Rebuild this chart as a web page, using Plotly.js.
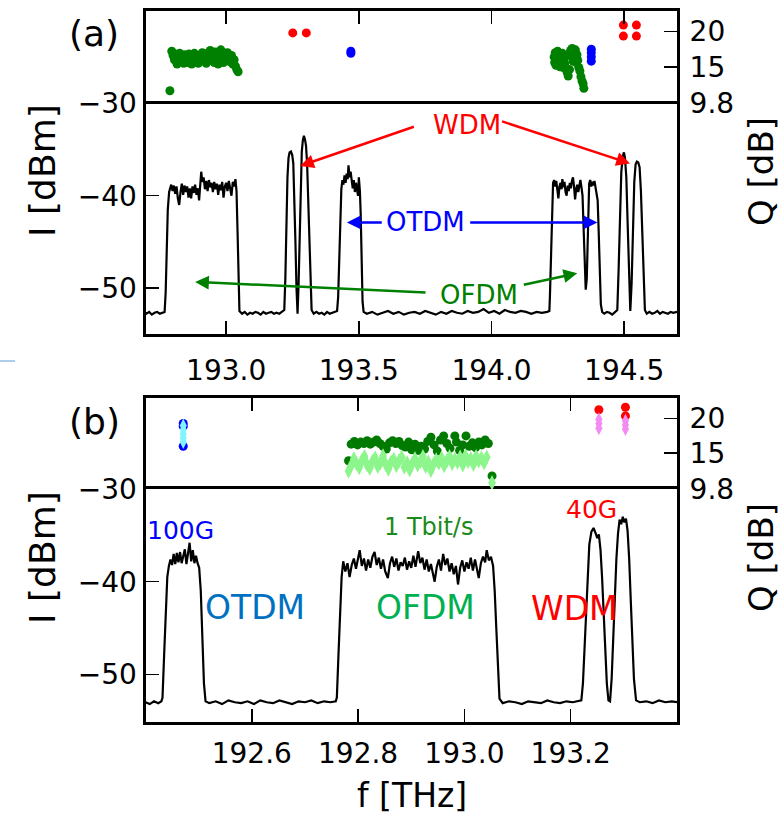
<!DOCTYPE html>
<html>
<head>
<meta charset="utf-8">
<script src="https://cdn.plot.ly/plotly-3.0.1.min.js"></script>
<style>html,body{margin:0;padding:0;background:#fff;}#chart{width:782px;height:817px;}</style>
</head>
<body>
<div id="chart"></div>
<script>
// ---------------- DATA ----------------
// Panel (a) spectrum: [frequency THz, power dBm]
const specA = [
[192.696,-52.7],[192.70,-52.8],[192.71,-52.6],[192.72,-52.9],[192.73,-52.7],[192.74,-52.6],[192.75,-52.8],[192.76,-52.7],[192.768,-52.6],
[192.772,-50.5],[192.776,-45],[192.780,-41.5],[192.785,-39.6],
[192.788,-39.3],[192.793,-38.8],[192.798,-39.5],[192.803,-38.9],[192.808,-39.8],[192.813,-39.0],[192.818,-40.3],[192.823,-41.0],[192.828,-39.6],[192.833,-38.7],
[192.838,-39.9],[192.843,-38.9],[192.848,-39.6],[192.853,-39.0],[192.858,-40.2],[192.863,-39.2],[192.868,-40.3],[192.873,-39.0],[192.878,-39.7],[192.883,-38.8],
[192.888,-39.9],[192.893,-39.2],[192.898,-40.5],[192.903,-38.6],[192.906,-37.4],[192.910,-38.5],[192.915,-38.0],[192.920,-39.3],[192.925,-38.4],[192.930,-39.5],
[192.935,-38.3],[192.940,-39.1],[192.945,-38.6],[192.950,-39.6],[192.955,-38.5],[192.960,-39.3],[192.965,-38.7],[192.970,-39.9],[192.975,-38.8],[192.980,-39.4],
[192.985,-38.5],[192.990,-40.2],[192.995,-39.0],[193.000,-38.6],[193.005,-39.5],[193.010,-38.4],[193.015,-39.2],[193.020,-40.0],[193.025,-38.5],[193.030,-39.0],
[193.035,-38.2],[193.039,-39.5],[193.043,-44],[193.046,-49],[193.050,-52.5],
[193.06,-52.8],[193.07,-52.6],[193.08,-52.9],[193.09,-52.7],[193.10,-52.8],[193.11,-52.6],[193.12,-52.7],[193.13,-52.9],[193.14,-52.6],[193.15,-52.8],
[193.16,-52.7],[193.17,-52.6],[193.18,-52.8],[193.19,-52.7],[193.20,-52.8],[193.21,-52.6],[193.215,-52.4],
[193.219,-52.4],[193.223,-49],[193.227,-43],[193.231,-38],[193.235,-35.9],[193.239,-35.3],[193.244,-35.2],[193.249,-35.6],[193.253,-36.5],[193.257,-40],
[193.261,-45],[193.265,-50],[193.269,-52.8],
[193.273,-49.5],[193.277,-44],[193.281,-38.5],[193.285,-35.2],[193.289,-34.0],[193.293,-33.5],[193.297,-33.9],[193.301,-34.6],[193.305,-36.5],[193.309,-40.5],
[193.313,-45.5],[193.317,-50],[193.322,-52.4],
[193.33,-52.8],[193.34,-52.6],[193.35,-52.8],[193.36,-52.7],[193.37,-52.9],[193.38,-52.6],[193.39,-52.8],[193.40,-52.7],[193.41,-52.6],[193.418,-52.5],
[193.422,-51],[193.426,-46],[193.430,-41.5],[193.434,-39.3],[193.438,-38.3],[193.442,-38.8],[193.446,-37.8],[193.450,-38.6],[193.454,-37.6],[193.458,-38.2],
[193.461,-36.7],[193.465,-38.0],[193.469,-37.4],[193.473,-38.5],[193.477,-39.2],[193.481,-38.3],[193.485,-39.6],[193.489,-38.6],[193.493,-39.4],[193.497,-40.0],
[193.500,-38.0],[193.504,-39.5],[193.507,-42],[193.510,-47],[193.514,-51.5],[193.518,-52.6],
[193.53,-52.8],[193.55,-52.6],[193.57,-52.9],[193.59,-52.7],[193.61,-52.5],[193.63,-52.8],[193.65,-52.6],[193.67,-52.9],[193.69,-52.7],[193.71,-52.6],
[193.73,-52.8],[193.75,-52.5],[193.77,-52.7],[193.79,-52.9],[193.81,-52.6],[193.83,-52.8],[193.85,-52.5],[193.87,-52.7],[193.89,-52.8],[193.91,-52.5],
[193.93,-52.7],[193.95,-52.6],[193.97,-52.3],[193.99,-52.7],[194.01,-52.5],[194.03,-52.8],[194.05,-52.4],[194.07,-52.6],[194.09,-52.7],[194.11,-52.5],
[194.13,-52.6],[194.15,-52.8],[194.17,-52.6],[194.19,-52.7],[194.21,-52.6],[194.218,-52.5],
[194.220,-51],[194.224,-46],[194.228,-41],[194.232,-38.6],[194.236,-38.3],[194.240,-39.0],[194.244,-38.4],[194.248,-39.5],[194.252,-40.3],[194.256,-39.0],
[194.260,-38.6],[194.264,-39.3],[194.267,-38.2],[194.271,-39.1],[194.275,-38.5],[194.279,-39.6],[194.283,-40.0],[194.287,-38.9],[194.291,-39.5],[194.295,-38.6],
[194.299,-39.2],[194.303,-38.4],[194.307,-38.0],[194.311,-39.0],[194.315,-40.4],[194.319,-39.3],[194.323,-38.8],[194.327,-39.6],[194.331,-38.7],[194.335,-38.3],
[194.339,-39.1],[194.343,-40],[194.347,-43.5],[194.351,-47],[194.355,-50.2],[194.359,-49],[194.362,-44],[194.365,-40],[194.368,-38.7],[194.372,-38.3],
[194.376,-39.0],[194.380,-38.5],[194.384,-38.9],[194.388,-38.4],[194.392,-39.0],[194.396,-39.5],[194.400,-40.5],[194.404,-44],[194.408,-48.5],[194.412,-51.8],
[194.417,-52.6],[194.425,-52.8],[194.435,-52.6],[194.445,-52.7],[194.455,-52.9],[194.465,-52.6],[194.470,-52.5],
[194.474,-52.4],[194.479,-48],[194.484,-42],[194.489,-37.5],[194.494,-35.8],[194.499,-35.3],[194.503,-35.9],[194.508,-38],[194.513,-43],[194.518,-48.5],
[194.523,-52.5],[194.528,-49.5],[194.533,-43.5],[194.538,-38.5],[194.543,-36.6],[194.548,-36.3],[194.553,-36.4],[194.558,-36.9],[194.563,-39.5],[194.568,-44.5],
[194.573,-49.5],[194.578,-52.4],
[194.585,-52.8],[194.595,-52.6],[194.605,-52.8],[194.615,-52.7],[194.625,-52.5],[194.635,-52.8],[194.645,-52.6],[194.655,-52.7],[194.665,-52.8],[194.675,-52.6],
[194.685,-52.7],[194.699,-52.6]
];

// Panel (b) spectrum
const specB = [
[192.400,-53.0],[192.408,-53.2],[192.416,-52.9],[192.424,-53.1],[192.430,-52.9],
[192.432,-52.5],[192.435,-48],[192.438,-43],[192.441,-39.5],[192.444,-38.3],[192.447,-37.6],[192.450,-38.2],[192.453,-37.0],[192.456,-38.1],[192.459,-36.9],
[192.462,-37.9],[192.465,-36.8],[192.468,-38.0],[192.471,-37.2],[192.474,-36.5],[192.477,-38.1],[192.480,-37.0],[192.483,-35.8],[192.486,-37.8],[192.489,-36.6],
[192.492,-38.0],[192.495,-37.2],[192.498,-38.0],[192.501,-38.5],[192.504,-41],[192.507,-46],[192.510,-51],[192.513,-52.9],
[192.52,-53.1],[192.532,-52.9],[192.544,-53.2],[192.556,-52.8],[192.568,-53.0],[192.58,-53.1],[192.592,-52.9],[192.604,-53.2],[192.616,-52.8],[192.628,-53.0],
[192.64,-53.1],[192.652,-52.8],[192.664,-53.0],[192.676,-53.2],[192.688,-52.9],[192.70,-53.0],[192.712,-52.8],[192.724,-53.1],[192.736,-52.9],[192.748,-53.0],[192.758,-52.9],
[192.760,-52.5],[192.763,-48],[192.766,-43],[192.769,-39.5],[192.772,-37.8],[192.776,-38.9],[192.780,-38.0],[192.784,-39.5],[192.788,-38.2],[192.792,-37.5],
[192.796,-38.6],[192.800,-37.2],[192.803,-36.6],[192.807,-38.3],[192.811,-37.5],[192.815,-38.8],[192.819,-37.6],[192.823,-38.5],[192.827,-37.3],[192.831,-36.8],
[192.835,-38.2],[192.839,-37.4],[192.843,-38.6],[192.847,-37.6],[192.851,-38.9],[192.856,-39.6],[192.860,-38.0],[192.864,-37.3],[192.868,-38.4],[192.872,-37.5],
[192.876,-38.8],[192.880,-37.9],[192.884,-38.3],[192.888,-37.4],[192.892,-38.7],[192.896,-37.8],[192.900,-38.5],[192.904,-37.2],[192.908,-38.4],[192.913,-36.7],
[192.917,-38.0],[192.921,-37.4],[192.925,-38.7],[192.929,-37.6],[192.933,-38.9],[192.937,-38.1],[192.941,-39.3],[192.944,-40.0],[192.948,-38.4],[192.952,-37.6],
[192.956,-38.8],[192.960,-37.0],[192.964,-38.2],[192.968,-37.5],[192.972,-38.9],[192.976,-38.0],[192.980,-39.2],[192.984,-38.3],[192.988,-40.3],[192.992,-38.5],
[192.996,-37.7],[193.000,-38.9],[193.004,-37.9],[193.008,-38.6],[193.012,-37.4],[193.016,-38.8],[193.020,-37.6],[193.024,-38.9],[193.027,-39.6],[193.031,-38.0],
[193.035,-37.3],[193.039,-37.9],[193.042,-36.6],[193.046,-37.7],[193.050,-37.3],[193.054,-38.3],[193.057,-41],[193.060,-45],[193.063,-49.5],[193.066,-52.6],
[193.072,-53.1],[193.084,-52.9],[193.096,-53.0],[193.108,-53.2],[193.12,-52.9],[193.132,-53.0],[193.144,-53.1],[193.156,-52.8],[193.168,-53.0],[193.18,-53.1],
[193.192,-52.9],[193.204,-53.0],[193.214,-52.9],
[193.220,-52.8],[193.223,-51],[193.226,-47],[193.229,-42.5],[193.232,-38.5],[193.235,-36],[193.239,-34.6],[193.243,-34.2],[193.247,-34.8],[193.250,-35.3],
[193.253,-34.9],[193.256,-36.5],[193.259,-39.5],[193.262,-43.5],[193.265,-47.5],[193.268,-51],[193.271,-52.8],[193.274,-52.9],
[193.277,-50.5],[193.280,-46],[193.283,-41.5],[193.286,-37.5],[193.289,-34.8],[193.292,-33.3],[193.295,-33.8],[193.298,-33.0],[193.301,-33.6],[193.304,-33.2],
[193.307,-34.5],[193.310,-37.5],[193.313,-42],[193.316,-46.5],[193.319,-50.5],[193.323,-52.8],
[193.33,-53.0],[193.342,-52.9],[193.354,-53.1],[193.366,-52.8],[193.378,-53.0],[193.39,-52.9],[193.4,-53.0]
];

// Panel (a) Q values: [frequency THz, Q dB]
const qA_ofdm = [
[192.788,11.6],[192.795,17.2],[192.800,16.6],[192.805,16.0],[192.810,16.8],[192.815,15.4],[192.820,16.3],[192.825,16.9],[192.830,15.8],[192.835,16.5],
[192.840,15.5],[192.845,16.7],[192.850,16.1],[192.855,15.6],[192.860,16.8],[192.865,16.2],[192.870,15.4],[192.875,16.5],[192.880,16.9],[192.885,15.7],
[192.890,16.3],[192.895,15.5],[192.900,16.6],[192.905,16.0],[192.910,17.0],[192.915,15.8],[192.920,16.4],[192.925,15.5],[192.930,16.9],[192.935,16.2],
[192.940,17.3],[192.945,15.9],[192.950,16.7],[192.955,15.6],[192.960,17.1],[192.965,16.3],[192.970,15.4],[192.975,16.8],[192.980,17.4],[192.985,16.1],
[192.990,15.6],[192.995,16.9],[193.000,15.9],[193.005,17.0],[193.010,16.3],[193.015,15.7],[193.020,16.6],[193.025,15.4],[193.030,16.0],[193.035,15.1],
[193.040,14.6],[193.045,14.3],
[194.236,16.4],[194.238,15.6],[194.240,17.0],[194.243,15.2],[194.246,16.5],[194.249,17.2],[194.252,15.9],[194.255,16.8],[194.258,15.0],[194.261,16.2],
[194.264,15.6],[194.267,16.9],[194.270,14.9],[194.273,16.0],[194.276,15.4],[194.279,16.6],[194.285,14.2],[194.289,13.7],[194.294,14.6],[194.298,17.3],
[194.301,16.5],[194.304,17.6],[194.307,15.8],[194.310,16.9],[194.313,16.2],[194.316,17.4],[194.319,15.6],[194.322,16.7],[194.325,15.9],[194.329,14.9],
[194.333,14.4],[194.337,13.6],[194.341,13.0],[194.345,12.6],[194.348,11.95]
];
const qA_otdm = [[193.470,17.2],[193.470,16.9],[194.376,17.5],[194.376,17.0],[194.376,16.4],[194.376,15.8]];
const qA_wdm = [[193.251,19.8],[193.302,19.8],[194.497,20.9],[194.497,19.35],[194.546,20.9],[194.546,19.35]];

// Panel (b) Q values
const qB_otdm_circ = [[192.471,19.3],[192.471,18.9],[192.471,16.0]];
const qB_otdm_diam = [[192.471,19.0],[192.471,18.4],[192.471,17.8],[192.471,17.2],[192.471,16.6]];
const qB_ofdm_circ = [
[192.782,13.9],[192.787,16.3],[192.793,16.7],[192.799,16.2],[192.805,16.6],[192.811,16.4],[192.817,16.8],[192.823,16.3],[192.829,16.6],[192.835,16.9],
[192.841,16.4],[192.847,16.0],[192.853,15.6],[192.859,16.5],[192.865,16.8],[192.871,16.4],[192.877,16.7],[192.883,16.1],[192.889,15.9],[192.895,16.6],
[192.901,15.5],[192.907,16.3],[192.913,15.4],[192.919,16.0],[192.925,15.6],[192.931,16.7],[192.937,17.3],[192.943,16.2],[192.949,15.3],[192.955,16.9],
[192.961,17.5],[192.967,16.4],[192.973,15.7],[192.982,17.5],[192.985,16.6],[192.991,15.4],[192.997,16.2],[193.003,17.5],[193.009,16.0],[193.015,16.5],
[193.021,15.8],[193.027,16.6],[193.033,16.2],[193.039,16.9],[193.045,16.4],[193.052,11.7]
];
const qB_ofdm_diam = [
[192.782,12.4],[192.787,13.2],[192.792,14.2],[192.797,13.5],[192.802,12.9],[192.807,13.9],[192.812,14.5],[192.817,13.3],[192.822,12.8],[192.827,13.8],
[192.832,14.3],[192.837,13.1],[192.842,13.6],[192.847,14.6],[192.852,13.4],[192.857,12.7],[192.862,13.7],[192.867,14.1],[192.872,13.2],[192.877,13.9],
[192.882,14.4],[192.887,13.0],[192.892,13.6],[192.897,12.6],[192.902,13.5],[192.907,14.2],[192.912,13.3],[192.917,13.8],[192.922,14.5],[192.927,13.1],
[192.932,13.7],[192.937,12.5],[192.942,13.4],[192.947,14.0],[192.952,13.6],[192.957,14.3],[192.962,13.2],[192.967,13.9],[192.972,14.5],[192.977,13.5],
[192.982,14.1],[192.987,13.7],[192.992,14.4],[192.997,13.3],[193.002,14.6],[193.007,13.8],[193.012,14.2],[193.017,13.4],[193.022,14.5],[193.027,13.9],
[193.032,14.3],[193.037,13.6],[193.042,14.4],[193.052,10.7]
];
const qB_wdm_circ = [[193.253,21.3],[193.303,21.66],[193.303,20.4]];
const qB_wdm_diam = [[193.253,19.9],[193.253,19.3],[193.253,18.6],[193.303,19.7],[193.303,19.1],[193.303,18.5]];

// Tick labels
const xTicksA = [193.0, 193.5, 194.0, 194.5];
const xTickTextA = ["193.0", "193.5", "194.0", "194.5"];
const xTicksB = [192.6, 192.8, 193.0, 193.2];
const xTickTextB = ["192.6", "192.8", "193.0", "193.2"];
const iTicks = [-30, -40, -50];
const iTickText = ["\u221230", "\u221240", "\u221250"];
const qTicks = [9.8, 15, 20];
const qTickText = ["9.8", "15", "20"];

// ---------------- PLOT ----------------
const W = 782, H = 817;
const FONT = "DejaVu Sans";
const px = v => v / W;
const py = v => 1 - v / H;
const col = (arr, i) => arr.map(p => p[i]);

const xDom = [px(145.5), px(677)];
const dom = {
  qa: [py(103.5), py(11)],
  ia: [py(334), py(103.5)],
  qb: [py(489), py(398)],
  ib: [py(721.7), py(489)]
};

function sc(arr, xa, ya, color, symbol, size) {
  return {
    x: col(arr, 0), y: col(arr, 1), xaxis: xa, yaxis: ya, type: 'scatter', mode: 'markers',
    marker: {color: color, symbol: symbol, size: size, line: {width: 0}},
    hoverinfo: 'skip'
  };
}

const traces = [
  {x: col(specA,0), y: col(specA,1), xaxis:'x', yaxis:'y2', type:'scatter', mode:'lines', line:{color:'#000', width:2.2}},
  {x: col(specB,0), y: col(specB,1), xaxis:'x3', yaxis:'y4', type:'scatter', mode:'lines', line:{color:'#000', width:2.2}},
  sc(qA_ofdm, 'x2', 'y', '#008000', 'circle', 9),
  sc(qA_otdm, 'x2', 'y', '#0000ff', 'circle', 9),
  sc(qA_wdm, 'x2', 'y', '#ff0000', 'circle', 9),
  sc(qB_otdm_circ, 'x4', 'y3', '#0000ff', 'circle', 9),
  sc(qB_otdm_diam, 'x4', 'y3', '#80f4ff', 'diamond-tall', 10),
  sc(qB_ofdm_circ, 'x4', 'y3', '#007a00', 'circle', 9),
  sc(qB_ofdm_diam, 'x4', 'y3', '#8cf58c', 'diamond-tall', 11),
  sc(qB_wdm_circ, 'x4', 'y3', '#ff0000', 'circle', 9),
  sc(qB_wdm_diam, 'x4', 'y3', '#f28cf2', 'diamond-tall', 10)
];

const baseAx = {
  showline: true, linewidth: 3, linecolor: '#000', mirror: true,
  showgrid: false, zeroline: false, ticks: 'inside', ticklen: 13, tickwidth: 1.5, tickcolor: '#000',
  tickfont: {family: FONT, size: 28, color: '#000'}, fixedrange: true
};

const layout = {
  width: W, height: H, margin: {l:0, r:0, t:0, b:0, pad:0},
  paper_bgcolor: '#fff', plot_bgcolor: '#fff', showlegend: false,
  font: {family: FONT, color: '#000'},
  xaxis: Object.assign({}, baseAx, {domain: xDom, range: [192.696, 194.699], anchor: 'y2',
    tickmode: 'array', tickvals: xTicksA, ticktext: xTickTextA, ticklabelstandoff: 9}),
  xaxis2: Object.assign({}, baseAx, {domain: xDom, range: [192.696, 194.699], anchor: 'y', side: 'top', mirror: false,
    tickmode: 'array', tickvals: xTicksA, ticktext: xTickTextA, showticklabels: false}),
  yaxis: Object.assign({}, baseAx, {domain: dom.qa, range: [9.8, 22.9], anchor: 'x2', side: 'right',
    tickmode: 'array', tickvals: qTicks, ticktext: qTickText, ticklabelstandoff: 4}),
  yaxis2: Object.assign({}, baseAx, {domain: dom.ia, range: [-55, -30], anchor: 'x', side: 'left',
    tickmode: 'array', tickvals: iTicks, ticktext: iTickText, ticklabelstandoff: 0}),
  xaxis3: Object.assign({}, baseAx, {domain: xDom, range: [192.4, 193.4], anchor: 'y4',
    tickmode: 'array', tickvals: xTicksB, ticktext: xTickTextB, ticklabelstandoff: 5}),
  xaxis4: Object.assign({}, baseAx, {domain: xDom, range: [192.4, 193.4], anchor: 'y3', side: 'top', mirror: false,
    tickmode: 'array', tickvals: xTicksB, ticktext: xTickTextB, showticklabels: false}),
  yaxis3: Object.assign({}, baseAx, {domain: dom.qb, range: [9.8, 23.0], anchor: 'x4', side: 'right',
    tickmode: 'array', tickvals: qTicks, ticktext: qTickText, ticklabelstandoff: 4}),
  yaxis4: Object.assign({}, baseAx, {domain: dom.ib, range: [-55.1, -30], anchor: 'x3', side: 'left',
    tickmode: 'array', tickvals: iTicks, ticktext: iTickText, ticklabelstandoff: 0}),
  shapes: [
    {type:'line', xref:'paper', yref:'paper', x0: 0, x1: px(15), y0: py(361), y1: py(361), line:{color:'#5b9bd5', width:1}}
  ],
  annotations: []
};

const A = layout.annotations;
function txt(x, y, xref, yref, text, size, color, angle) {
  A.push({x:x, y:y, xref:xref, yref:yref, text:text, showarrow:false, xanchor:'center', yanchor:'middle',
    textangle: angle || 0, borderpad: 0, font:{family: FONT, size: size, color: color}});
}
function arrow(hx, hy, tx, ty, xref, yref, color) {
  A.push({x:hx, y:hy, ax:tx, ay:ty, xref:xref, yref:yref, axref:xref, ayref:yref, text:'', showarrow:true,
    arrowhead:2, arrowsize:1.1, arrowwidth:2.5, arrowcolor:color, standoff:0, startstandoff:0});
}

// Panel labels & axis titles
txt(px(94), py(33), 'paper', 'paper', '(a)', 36, '#000');
txt(px(94), py(421), 'paper', 'paper', '(b)', 36, '#000');
txt(px(42), py(171), 'paper', 'paper', 'I [dBm]', 36, '#000', -90);
txt(px(42), py(558), 'paper', 'paper', 'I [dBm]', 36, '#000', -90);
txt(px(761), py(172), 'paper', 'paper', 'Q [dB]', 34, '#000', -90);
txt(px(761), py(558), 'paper', 'paper', 'Q [dB]', 34, '#000', -90);
txt(px(412), py(795), 'paper', 'paper', 'f [THz]', 33, '#000');

// Panel (a) annotations
txt(193.907, -32.3, 'x', 'y2', 'WDM', 26, '#ff0000');
arrow(193.279, -36.77, 193.713, -32.46, 'x', 'y2', '#ff0000');
arrow(194.522, -36.5, 194.034, -31.89, 'x', 'y2', '#ff0000');
txt(193.753, -42.9, 'x', 'y2', 'OTDM', 26, '#0000ff');
arrow(193.455, -42.9, 193.592, -42.9, 'x', 'y2', '#0000ff');
arrow(194.399, -42.9, 193.914, -42.9, 'x', 'y2', '#0000ff');
txt(193.952, -50.8, 'x', 'y2', 'OFDM', 26, '#008000');
arrow(192.883, -49.35, 193.757, -50.5, 'x', 'y2', '#008000');
arrow(194.323, -48.4, 194.116, -49.7, 'x', 'y2', '#008000');

// Panel (b) annotations
txt(192.466, -34.5, 'x3', 'y4', '100G', 25, '#0000ff');
txt(192.6056, -42.8, 'x3', 'y4', 'OTDM', 33, '#0070c0');
txt(192.933, -34.05, 'x3', 'y4', '1 Tbit/s', 24, '#1a8a1a');
txt(192.927, -42.8, 'x3', 'y4', 'OFDM', 33, '#00b050');
txt(193.208, -42.9, 'x3', 'y4', 'WDM', 33, '#ff0000');
txt(193.239, -32.26, 'x3', 'y4', '40G', 25, '#ff0000');

Plotly.newPlot('chart', traces, layout, {staticPlot: true, displayModeBar: false});
</script>
</body>
</html>
